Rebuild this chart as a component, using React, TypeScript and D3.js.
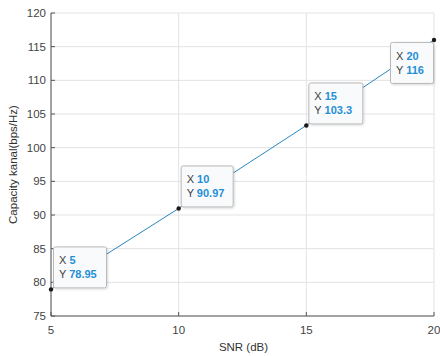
import React from "react";
import * as d3 from "d3";

const snr = [5, 10, 15, 20];
const capacity = [78.95, 90.97, 103.3, 116];
const tipX = ["5", "10", "15", "20"];
const tipY = ["78.95", "90.97", "103.3", "116"];
const xTicks = [5, 10, 15, 20];
const yTicks = [75, 80, 85, 90, 95, 100, 105, 110, 115, 120];

const W = 440, H = 356;
const M = { left: 51, right: 6, top: 13, bottom: 40 };

export default function App() {
  const x = d3.scaleLinear().domain([5, 20]).range([M.left, W - M.right]);
  const y = d3.scaleLinear().domain([75, 120]).range([H - M.bottom, M.top]);
  const line = d3.line<number>().x((_, i) => x(snr[i])).y((d) => y(d));
  const font = "'Liberation Sans', Arial, Helvetica, sans-serif";
  const x0 = x(5), x1 = x(20), y0 = y(75), y1 = y(120);
  const boxW = [53, 52, 54, 43];
  const boxH = 41;
  return (
    <svg width={W} height={H} style={{ position: "absolute", left: 0, top: 0, background: "#fff" }} fontFamily={font}>
      <defs>
        <filter id="sh" x="-20%" y="-20%" width="140%" height="140%">
          <feDropShadow dx="1" dy="1" stdDeviation="0.8" floodColor="#000" floodOpacity="0.15" />
        </filter>
      </defs>
      <rect x={0} y={0} width={W} height={H} fill="#fff" />
      {/* grid */}
      {xTicks.map((t) => (
        <line key={"gx" + t} x1={x(t)} x2={x(t)} y1={y0} y2={y1} stroke="#e3e3e3" strokeWidth={1} />
      ))}
      {yTicks.map((t) => (
        <line key={"gy" + t} x1={x0} x2={x1} y1={y(t)} y2={y(t)} stroke="#e3e3e3" strokeWidth={1} />
      ))}
      {/* axes */}
      <line x1={x0} x2={x0} y1={y0} y2={y1} stroke="#555" strokeWidth={1} />
      <line x1={x0} x2={x1} y1={y0} y2={y0} stroke="#555" strokeWidth={1} />
      {xTicks.map((t) => (
        <g key={"xt" + t}>
          <line x1={x(t)} x2={x(t)} y1={y0} y2={y0 - 4} stroke="#555" />
          <text x={x(t)} y={y0 + 18} textAnchor="middle" fontSize={11.5} fill="#444">{t}</text>
        </g>
      ))}
      {yTicks.map((t) => (
        <g key={"yt" + t}>
          <line x1={x0} x2={x0 + 4} y1={y(t)} y2={y(t)} stroke="#555" />
          <text x={x0 - 5} y={y(t) + 4} textAnchor="end" fontSize={11.5} fill="#444">{t}</text>
        </g>
      ))}
      <text x={(x0 + x1) / 2 + 1} y={351} textAnchor="middle" fontSize={11.5} fill="#333">SNR (dB)</text>
      <text transform={`translate(17,${(y0 + y1) / 2}) rotate(-90)`} textAnchor="middle" fontSize={11.5} fill="#333">
        Capacity kanal(bps/Hz)
      </text>
      {/* data line */}
      <path d={line(capacity) || ""} fill="none" stroke="#2a86c4" strokeWidth={1} />
      {capacity.map((v, i) => (
        <circle key={"p" + i} cx={x(snr[i])} cy={y(v)} r={2.2} fill="#1a1a1a" />
      ))}
      {/* datatips */}
      {capacity.map((v, i) => {
        const px = x(snr[i]);
        const py = y(v);
        const bw = boxW[i];
        const last = i === capacity.length - 1;
        const bx = last ? px - bw - 1 : px + 2;
        const by = last ? py + 2 : py - boxH - 2;
        return (
          <g key={"tip" + i}>
            <rect x={bx + 0.5} y={by + 0.5} width={bw} height={boxH} rx={2} fill="#f9fafb" stroke="#b8b8b8" strokeWidth={1} filter="url(#sh)" />
            <text x={bx + 6} y={by + 18} fontSize={11} fill="#404040">
              X <tspan fill="#1f8fd8" fontWeight="bold">{tipX[i]}</tspan>
            </text>
            <text x={bx + 6} y={by + 32} fontSize={11} fill="#404040">
              Y <tspan fill="#1f8fd8" fontWeight="bold">{tipY[i]}</tspan>
            </text>
          </g>
        );
      })}
    </svg>
  );
}
